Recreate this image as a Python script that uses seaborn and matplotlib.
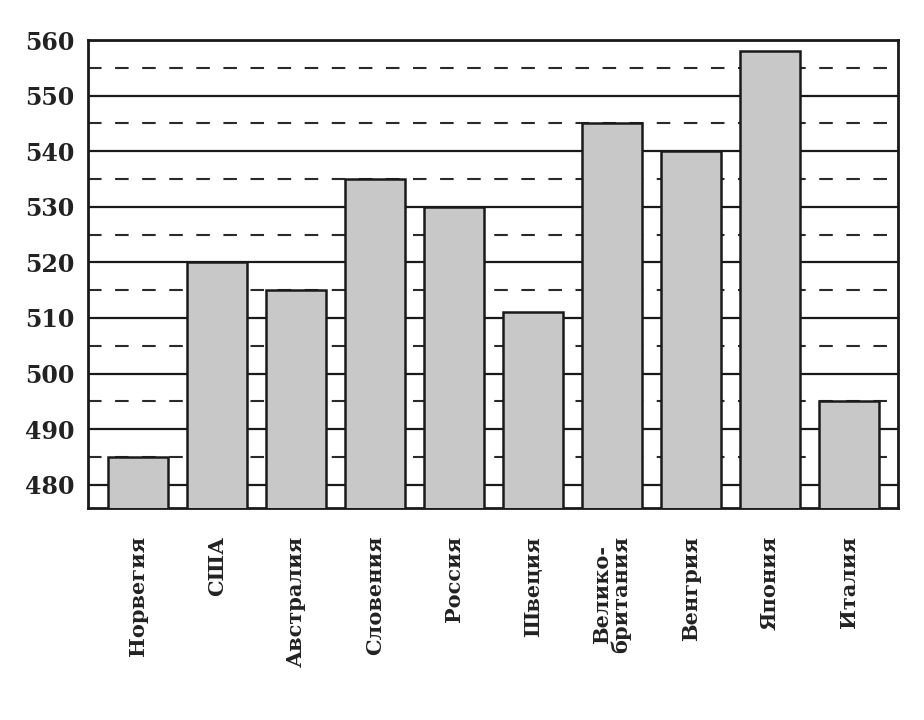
import matplotlib
matplotlib.use("Agg")
import matplotlib.pyplot as plt
import seaborn as sns
import pandas as pd
import numpy as np

countries = ["Норвегия", "США", "Австралия", "Словения", "Россия", "Швеция",
             "Велико-\nбритания", "Венгрия", "Япония", "Италия"]
scores = [485, 520, 515, 535, 530, 511, 545, 540, 558, 495]
y_major = [480, 490, 500, 510, 520, 530, 540, 550, 560]
y_minor = [485, 495, 505, 515, 525, 535, 545, 555]

sns.set_theme(style="white")
plt.rcParams['font.family'] = ['DejaVu Serif']

df = pd.DataFrame({"country": countries, "score": scores})

fig = plt.figure(figsize=(9.24, 7.2), dpi=100)
ax = fig.add_axes([0.0952, 0.2944, 0.8767, 0.65])

sns.barplot(data=df, x="country", y="score", color="#c8c8c8", saturation=1,
            width=0.76, edgecolor="#1a1a1a", linewidth=1.8, ax=ax, zorder=3)

ax.set_ylim(475.8, 560)
ax.set_xlim(-0.634, 9.627)
ax.set_yticks(y_major)
ax.set_yticks(y_minor, minor=True)
ax.set_axisbelow(True)
ax.grid(False)
for v in y_major:
    ax.axhline(v, color="#1a1a1a", lw=1.6, zorder=1)
for v in y_minor:
    ax.axhline(v, color="#2a2a2a", lw=1.5, ls=(0, (6.5, 6.5)), zorder=1)

for s in ax.spines.values():
    s.set_visible(True)
    s.set_color("#1a1a1a")
    s.set_linewidth(2.0)

ax.tick_params(axis="y", which="both", length=0, pad=10, labelsize=17)
ax.tick_params(axis="x", length=0, pad=20, labelsize=15)
ax.set_yticklabels([str(v) for v in y_major], fontweight="bold", color="#222222")
ax.set_xticks(range(len(countries)))
ax.set_xticklabels(countries, rotation=90, fontweight="bold", color="#222222",
                   va="top", ha="center", linespacing=0.95)
ax.set_xlabel("")
ax.set_ylabel("")

fig.savefig("out.png", dpi=100, facecolor="white")
